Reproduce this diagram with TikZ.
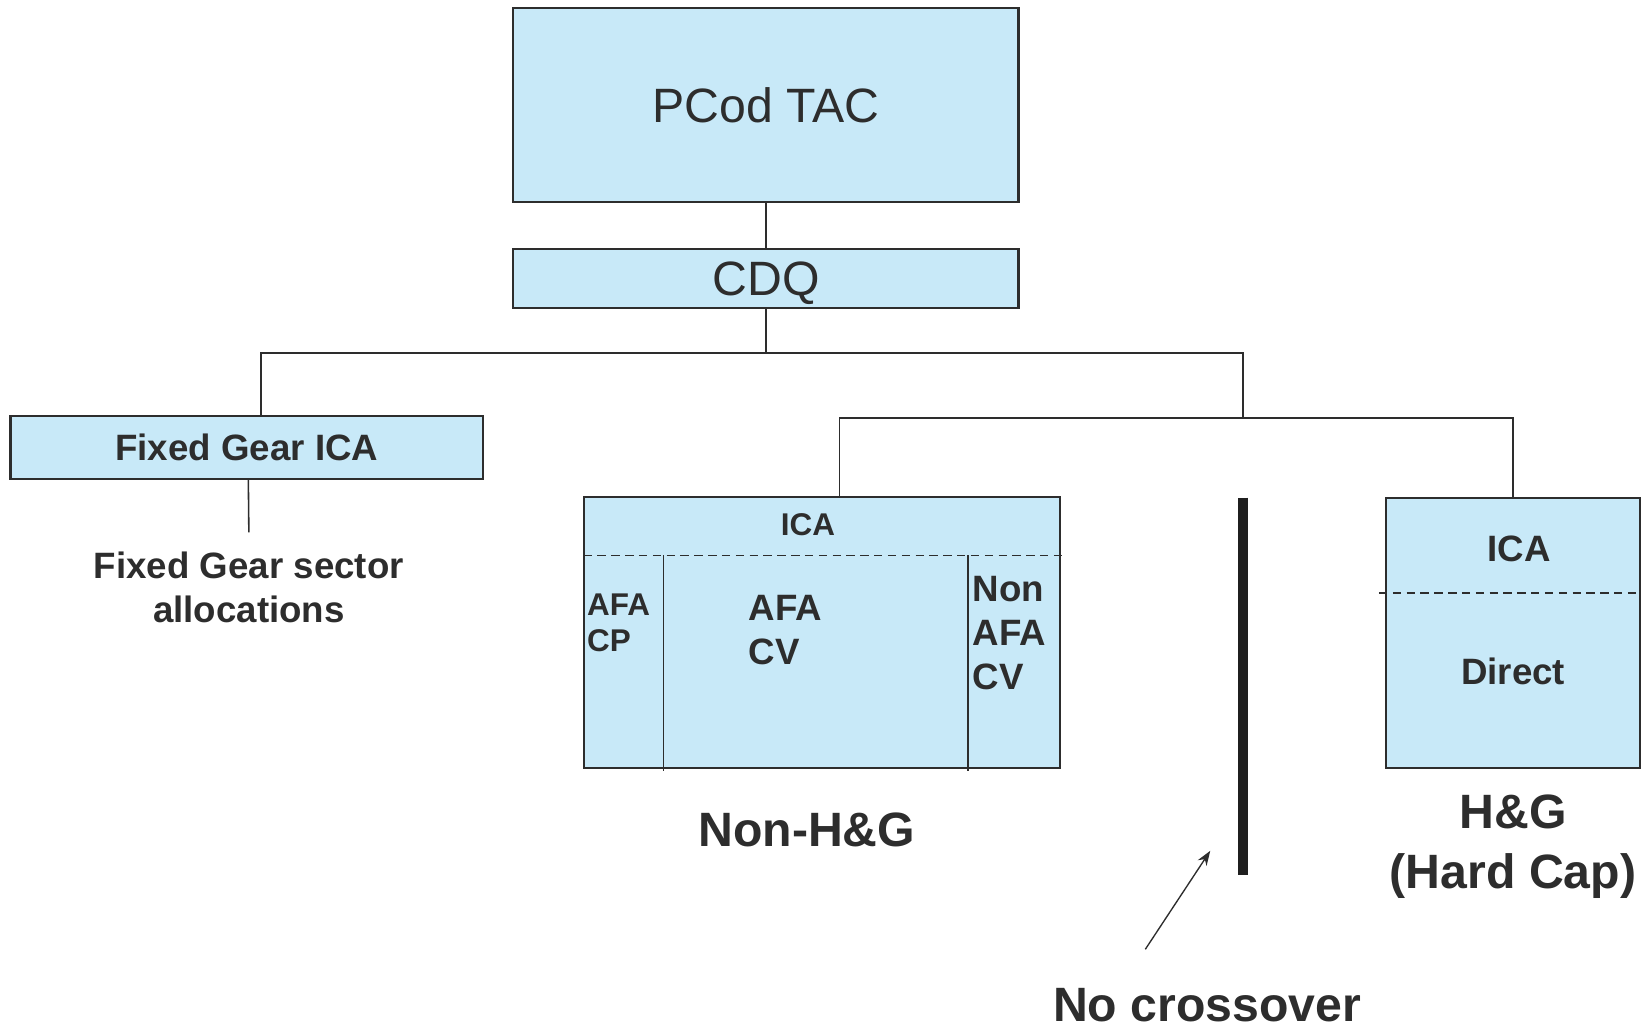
\documentclass[tikz,border=0pt]{standalone}
\usepackage{fontspec}
\setmainfont{Liberation Sans}
\usetikzlibrary{arrows.meta}
\definecolor{boxfill}{RGB}{200,233,248}
\definecolor{ink}{RGB}{45,45,45}

\begin{document}
\begin{tikzpicture}[x=0.5pt,y=-0.5pt,
  box/.style={draw=ink, line width=1pt, fill=boxfill, inner sep=0pt},
  wire/.style={draw=ink, line width=0.75pt},
  divider/.style={draw=ink, line width=0.65pt, dash pattern=on 4pt off 2.6pt},
  big/.style={text=ink, font=\fontsize{23}{28.5}\selectfont},
  bigb/.style={text=ink, font=\fontsize{23}{28.5}\selectfont\bfseries},
  midb/.style={text=ink, font=\fontsize{17.5}{21}\selectfont\bfseries},
  smallb/.style={text=ink, font=\fontsize{15}{17.5}\selectfont\bfseries},
  lbl/.style={inner sep=0pt}]

\useasboundingbox (0,0) rectangle (1568,984);

% boxes of the hierarchy
\node[box, big, minimum width=241pt, minimum height=92.5pt] (tac) at (731,100.5) {PCod TAC};
\node[box, big, text depth=0pt, minimum width=241pt, minimum height=28pt] (cdq) at (731,266) {CDQ};
\node[box, midb, minimum width=225.5pt, minimum height=30pt] (fg) at (235.5,427) {Fixed Gear ICA};
\node[box, minimum width=227.5pt, minimum height=129.5pt] (nhg) at (784.5,603.5) {};
\node[box, minimum width=121pt, minimum height=129pt] (hg) at (1444,604) {};

% junction points of the tree
\coordinate (busA) at (731,337);
\coordinate (split) at (1186,399);

\draw[wire] (tac.south) -- (cdq.north);
\draw[wire] (cdq.south) -- (busA);
\draw[wire] ([xshift=6.75pt]fg.north) |- (busA) -| (split);
\draw[wire] ([xshift=8.25pt]nhg.north) |- (split) -| (hg.north);

% fixed gear branch
\node[lbl, midb, align=center, anchor=north, inner ysep=9pt] (fgs) at (237.5,508)
  {Fixed Gear sector\\allocations};
\draw[wire] ([xshift=0.75pt]fg.south) -- (fgs.north);

% non-H&G box subdivisions
\coordinate (nd1) at (557,530);
\coordinate (nd2) at (1017,530);
\draw[divider] (nd1) -- (nd2);
\coordinate (v1t) at (633,530);
\coordinate (v1b) at (633,736);
\coordinate (v2t) at (924,530);
\coordinate (v2b) at (924,736);
\draw[wire] (v1t) -- (v1b);
\draw[wire] (v2t) -- (v2b);

\node[lbl, smallb] (nica) at (771,501) {ICA};
\node[lbl, smallb, align=left, anchor=west] (afacp) at (560,594.5) {AFA\\CP};
\node[lbl, midb, align=left, anchor=west] (afacv) at (714,601) {AFA\\CV};
\node[lbl, midb, align=left, anchor=west] (nafacv) at (928,604) {Non\\AFA\\CV};
\node[lbl, bigb] (nhglbl) at (770,792) {Non-H\&G};

% H&G box subdivision
\coordinate (hd1) at (1316,566);
\coordinate (hd2) at (1565,566);
\draw[divider] (hd1) -- (hd2);
\node[lbl, midb] (hica) at (1450,524) {ICA};
\node[lbl, midb] (hdir) at (1444,641) {Direct};
\node[lbl, bigb, align=center] (hglbl) at (1444,808) {H\&G\\(Hard Cap)};

% barrier between the two sectors
\coordinate (bart) at (1186,475);
\coordinate (barb) at (1186,835);
\draw[draw=black!88, line width=5pt] (bart) -- (barb);

\node[lbl, bigb] (nocross) at (1152,959) {No crossover};
\coordinate (arrs) at (1093,906);
\coordinate (arre) at (1155,812);
\draw[wire, line width=0.65pt, -{Stealth[length=7pt,width=5pt]}] (arrs) -- (arre);

\end{tikzpicture}
\end{document}
